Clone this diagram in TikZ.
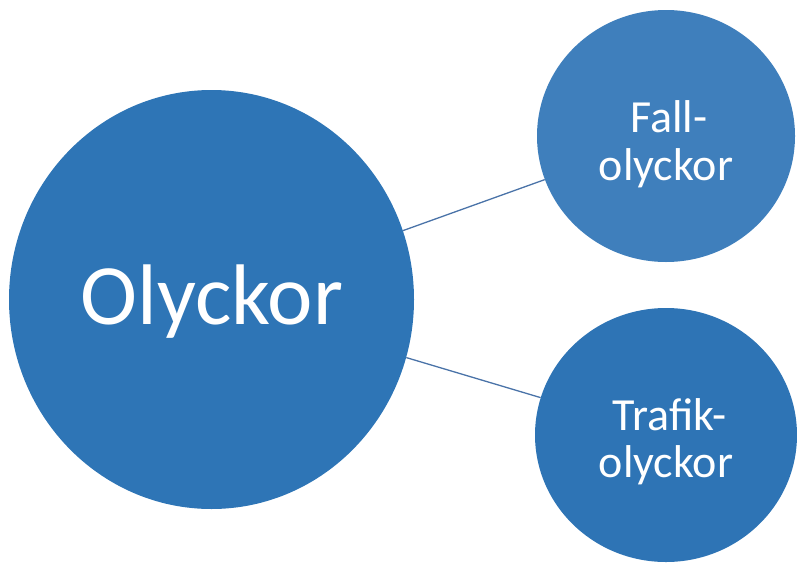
\documentclass[tikz,border=0pt]{standalone}
\usepackage{fontspec}
\setmainfont{Carlito}
\usetikzlibrary{shapes.geometric}
\definecolor{bigblue}{HTML}{2E75B6}
\definecolor{topblue}{HTML}{3F7FBC}
\definecolor{botblue}{HTML}{2E74B5}
\definecolor{linkblue}{HTML}{4A73A8}
\tikzset{
  bubble/.style={ellipse, inner sep=0pt, draw=none},
  bigtext/.style={text=white, anchor=base, inner sep=0pt, font=\fontsize{86}{86}\selectfont},
  smalltext/.style={text=white, anchor=base, inner sep=0pt, font=\fontsize{46}{46}\selectfont},
  link/.style={draw=linkblue, line width=1.3pt}
}
\begin{document}
\begin{tikzpicture}[x=1pt,y=-1pt]
\useasboundingbox (0,0) rectangle (797,565);
\node[bubble, fill=bigblue, minimum width=405pt, minimum height=419pt] (big) at (211.5,299.5) {};
\node[bubble, fill=topblue, minimum width=258pt, minimum height=252pt] (fall) at (666,136) {};
\node[bubble, fill=botblue, minimum width=262pt, minimum height=254pt] (trafik) at (666,435) {};
\draw[link] (big) -- (fall);
\draw[link] (big) -- (trafik);
\node[bigtext] (tbig) at (212,324) {Olyckor};
\node[smalltext] (tfall1) at (669,132) {Fall-};
\node[smalltext] (tfall2) at (666,180) {olyckor};
\node[smalltext] (ttraf1) at (670,430) {Trafik-};
\node[smalltext] (ttraf2) at (666,477) {olyckor};
\end{tikzpicture}
\end{document}
